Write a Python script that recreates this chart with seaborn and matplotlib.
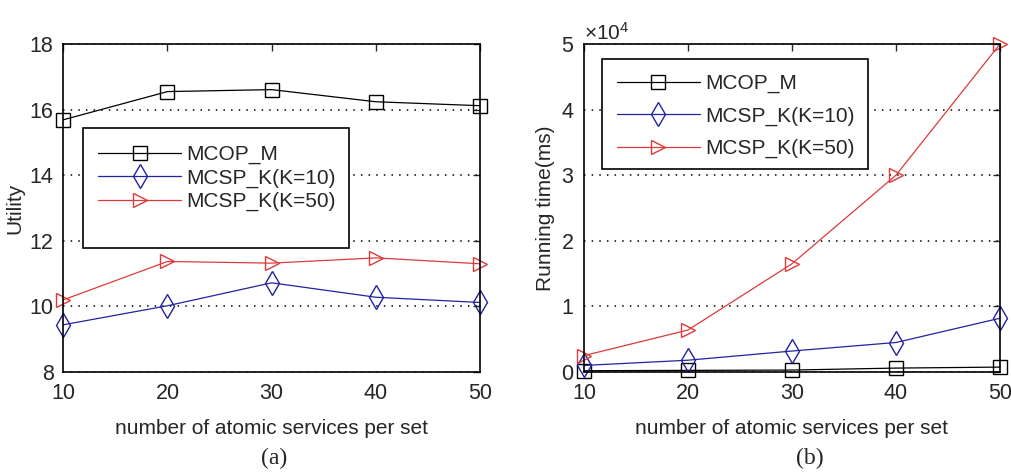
import numpy as np
import pandas as pd
import matplotlib
matplotlib.use("Agg")
import matplotlib.pyplot as plt
import seaborn as sns
from matplotlib.patches import Rectangle
from matplotlib.ticker import ScalarFormatter

# values
services = [10, 20, 30, 40, 50]
utility_mcop = [15.69, 16.55, 16.61, 16.24, 16.12]
utility_k10 = [9.44, 10.02, 10.72, 10.28, 10.12]
utility_k50 = [10.2, 11.37, 11.32, 11.48, 11.3]
time_mcop = [200, 250, 300, 600, 750]
time_k10 = [1000, 1800, 3200, 4500, 8200]
time_k50 = [2500, 6400, 16500, 30000, 50000]
labels = ["MCOP_M", "MCSP_K(K=10)", "MCSP_K(K=50)"]

sns.set_style("white")
plt.rcParams["font.family"] = ["Liberation Sans", "DejaVu Sans"]
plt.rcParams["mathtext.fontset"] = "custom"
plt.rcParams["mathtext.rm"] = "Liberation Sans"

colors = ["black", "#2323a0", "#dd3a3a"]
markers = ["s", "d", ">"]
msizes = [10, 12, 10]

fig = plt.figure(figsize=(10.11, 4.75), dpi=100)
ax1 = fig.add_axes([0.0626, 0.2168, 0.4122, 0.6905])
ax2 = fig.add_axes([0.5776, 0.2168, 0.4115, 0.6905])


def draw(ax, series):
    for y, lab, c, m, ms in zip(series, labels, colors, markers, msizes):
        df = pd.DataFrame({"x": services, "y": y})
        sns.lineplot(data=df, x="x", y="y", ax=ax, color=c, marker=m,
                     markersize=ms, mfc="none", mec=c, mew=1.0, lw=0.9,
                     label=lab, clip_on=False)
    ax.set_xlim(10, 50)
    ax.set_xticks(services)
    ax.yaxis.grid(True, linestyle=(0, (1, 4)), color="black", lw=1.1)
    ax.xaxis.grid(False)
    ax.tick_params(direction="in", top=True, right=True, length=5,
                   labelsize=15.5, width=1)
    ax.tick_params(axis="x", pad=8)
    ax.tick_params(axis="y", pad=7)
    for s in ax.spines.values():
        s.set_color("black")
        s.set_linewidth(1.2)
    ax.set_xlabel("number of atomic services per set", fontsize=15, labelpad=11)


def boxed_legend(ax, box, anchor, spacing):
    # MATLAB-style legend: plain frame drawn separately
    ax.add_patch(Rectangle((box[0], box[1]), box[2] - box[0], box[3] - box[1],
                           transform=ax.transAxes, facecolor="white",
                           edgecolor="black", lw=1.2, zorder=5))
    leg = ax.legend(loc="upper left", bbox_to_anchor=anchor, borderaxespad=0,
                    borderpad=0, frameon=False, fontsize=15,
                    handlelength=4.0, handletextpad=0.25, labelspacing=spacing)
    leg.set_zorder(6)


draw(ax1, [utility_mcop, utility_k10, utility_k50])
ax1.set_ylim(8, 18)
ax1.set_yticks([8, 10, 12, 14, 16, 18])
ax1.set_ylabel("Utility", fontsize=15, labelpad=4)
boxed_legend(ax1, (0.047, 0.378, 0.686, 0.744), (0.083, 0.692), 0.2)

draw(ax2, [time_mcop, time_k10, time_k50])
ax2.set_ylim(0, 50000)
ax2.set_yticks([0, 10000, 20000, 30000, 40000, 50000])
fmt = ScalarFormatter(useMathText=True)
fmt.set_powerlimits((0, 0))
ax2.yaxis.set_major_formatter(fmt)
ax2.yaxis.get_offset_text().set_fontsize(15)
ax2.set_ylabel("Running time(ms)", fontsize=15, labelpad=4)
boxed_legend(ax2, (0.043, 0.619, 0.683, 0.954), (0.079, 0.909), 0.64)

fig.text(0.271, 0.034, "(a)", fontsize=17, family=["Liberation Serif"],
         ha="center", va="center")
fig.text(0.801, 0.034, "(b)", fontsize=17, family=["Liberation Serif"],
         ha="center", va="center")

fig.savefig("out.png", dpi=100)
